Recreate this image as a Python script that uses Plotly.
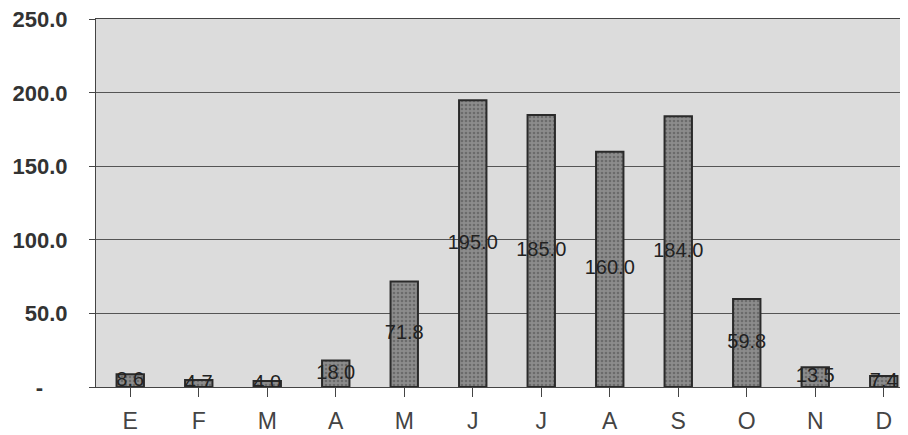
import plotly.graph_objects as go

months = ["E", "F", "M", "A", "M", "J", "J", "A", "S", "O", "N", "D"]
values = [8.6, 4.7, 4.0, 18.0, 71.8, 195.0, 185.0, 160.0, 184.0, 59.8, 13.5, 7.4]
labels = [f"{v:.1f}" for v in values]
ytick_vals = [0, 50, 100, 150, 200, 250]
ytick_text = ["-\u00a0\u00a0\u00a0\u00a0", "50.0", "100.0", "150.0", "200.0", "250.0"]

xs = list(range(len(months)))

fig = go.Figure()
fig.add_trace(go.Bar(
    x=xs, y=values,
    marker=dict(color="#7c7c7c", line=dict(color="#2a2a2a", width=2),
                pattern=dict(shape=".", fgcolor="#4a4a4a", bgcolor="#8c8c8c", size=4, solidity=0.35)),
    width=0.4,
    hoverinfo="skip",
))
fig.add_trace(go.Scatter(
    x=xs, y=[v / 2 for v in values],
    mode="text", text=labels,
    textfont=dict(family="Liberation Sans, Arial", size=20, color="#222"),
    textposition="middle center",
    hoverinfo="skip",
))

# page body has an 8px margin; figure sized to fill the rest of the 908x435 window
fig.update_layout(
    width=900, height=427,
    margin=dict(l=88, r=0, t=11, b=48, autoexpand=False),
    paper_bgcolor="white",
    plot_bgcolor="#dcdcdc",
    showlegend=False,
    font=dict(family="Liberation Sans, Arial", color="#333"),
)
fig.update_xaxes(
    tickmode="array", tickvals=xs, ticktext=months,
    range=[-0.5, 11.354],
    automargin=False,
    showgrid=False, zeroline=False,
    showline=True, linecolor="#444", linewidth=1, mirror=True,
    ticks="outside", ticklen=9, tickcolor="#444",
    tickfont=dict(size=23, color="#444"),
    ticklabelstandoff=4,
)
fig.update_yaxes(
    range=[0, 250.2],
    automargin=False,
    tickmode="array", tickvals=ytick_vals, ticktext=ytick_text,
    showgrid=True, gridcolor="#555", gridwidth=1,
    zeroline=False,
    showline=True, linecolor="#444", linewidth=1,
    ticks="outside", ticklen=6, tickcolor="#444",
    tickfont=dict(size=22, color="#333", family="Liberation Sans, Arial", weight="bold"),
    ticklabelstandoff=17,
    ticklabeloverflow="allow",
)

fig.write_html("out.html")
